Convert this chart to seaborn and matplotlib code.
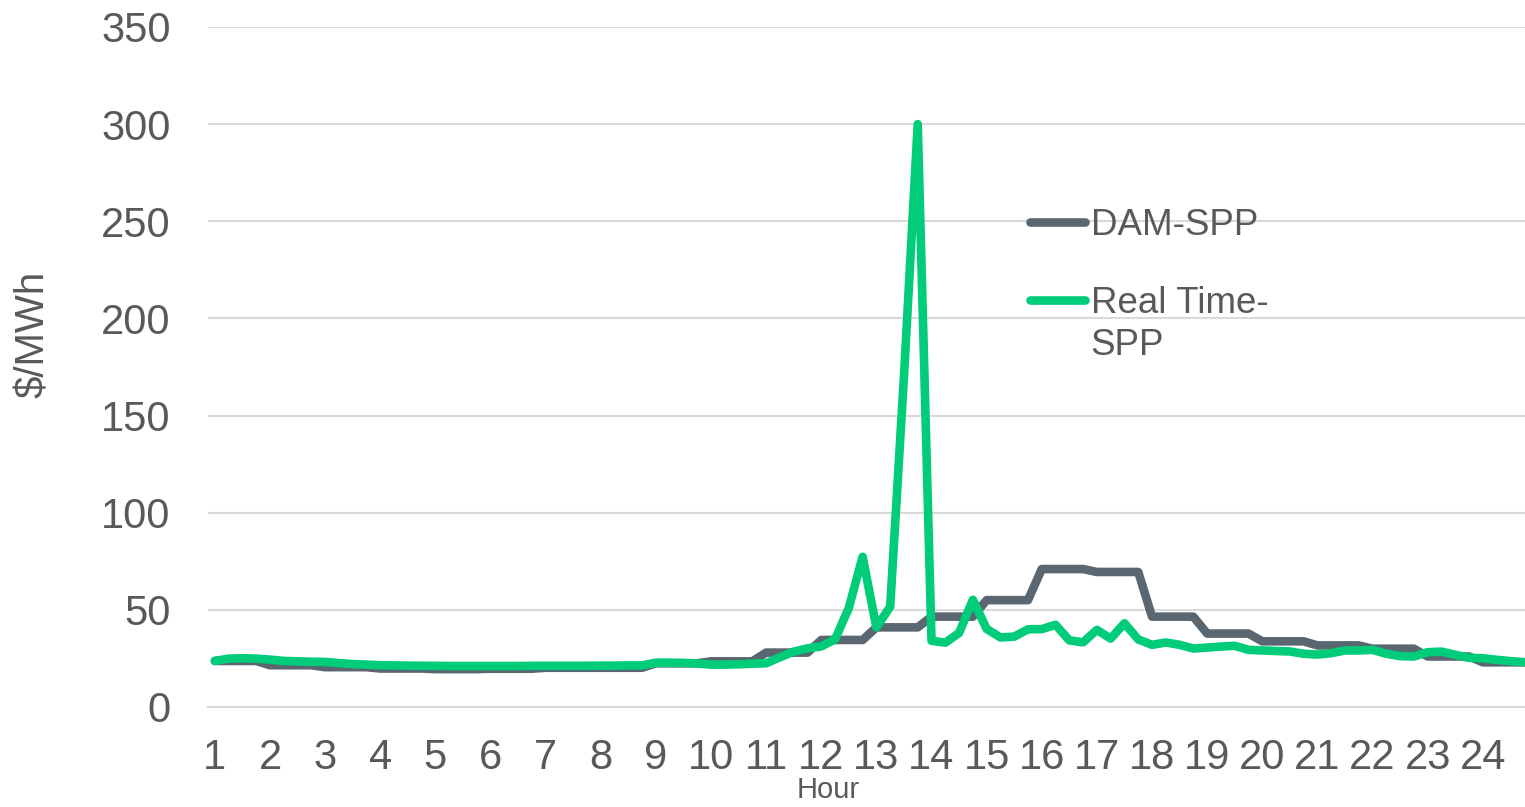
import numpy as np
import pandas as pd
import matplotlib
matplotlib.use("Agg")
import matplotlib.pyplot as plt
from matplotlib.lines import Line2D
import seaborn as sns

# hourly day-ahead price, applies to each 15-min interval of the hour
hours = list(range(1, 25))
dam_hourly = [23.7, 21.5, 20.5, 19.8, 19.5, 19.7, 20.2, 20.2, 22.5, 23.5, 28.0, 34.5,
              41.0, 46.5, 55.0, 71.0, 69.5, 46.5, 37.8, 33.8, 31.7, 30.0, 26.0, 23.0]

# real time price, 15-min intervals (96)
rt_values = [23.7, 24.9, 25.1, 24.9, 24.4, 23.7, 23.5, 23.3, 23.2, 22.6, 22.1, 21.8,
             21.5, 21.4, 21.3, 21.2, 21.2, 21.1, 21.1, 21.1, 21.1, 21.1, 21.1, 21.2,
             21.2, 21.2, 21.2, 21.2, 21.3, 21.3, 21.4, 21.4,
             22.8, 22.8, 22.7, 22.4,
             21.8, 21.8, 22.0, 22.3, 22.5,
             25.6, 28.5, 30.2, 31.2, 34.8, 51.0, 77.3, 41.0, 51.6,
             170.0, 300.0,
             34.1, 33.1, 38.1, 55.2, 40.2,
             35.8, 36.2, 40.0, 40.1, 42.3,
             34.3, 33.3, 39.7, 35.2, 43.1,
             34.8, 32.0, 33.2, 32.0, 30.1,
             30.6, 31.1, 31.5, 29.4, 29.1,
             28.8, 28.6, 27.4, 27.0, 27.7,
             29.1, 29.1, 29.4, 27.4, 26.2,
             26.0, 28.2, 28.5, 26.9, 25.3,
             25.1, 24.3, 23.6, 23.1]

series_names = ["DAM-SPP", "Real Time-SPP"]
dam_color = "#5A6771"
rt_color = "#00CC7A"
text_color = "#595959"
grid_color = "#D9D9D9"

dam_values = np.repeat(dam_hourly, 4)
n = len(rt_values)
df = pd.DataFrame({
    "interval": np.tile(np.arange(n), 2),
    "price": np.concatenate([dam_values, rt_values]),
    "series": [series_names[0]] * n + [series_names[1]] * n,
})

sns.set_theme(style="white")
plt.rcParams["font.family"] = ["Liberation Sans", "DejaVu Sans"]

W, H = 1525, 807
fig = plt.figure(figsize=(W / 100, H / 100), dpi=100)
ax = fig.add_axes([208 / W, 1 - 707 / H, (1531 - 208) / W, (707 - 27) / H])

lw = 6.2
sns.lineplot(data=df, x="interval", y="price", hue="series",
             palette=[dam_color, rt_color], linewidth=lw, ax=ax, legend=False)
for line in ax.lines:
    line.set_solid_capstyle("round")
    line.set_solid_joinstyle("round")

ax.set_xlim(-0.5, n - 0.5)
ax.set_ylim(0, 350)
ax.set_yticks(range(0, 351, 50))
ax.yaxis.grid(True, color=grid_color, linewidth=1.5)
ax.set_axisbelow(True)

ax.set_xticks(np.arange(0, n, 4))
ax.set_xticklabels([str(h) for h in hours])
ax.set_xticks(np.arange(-0.5, n, 4), minor=True)
ax.tick_params(axis="x", which="major", length=0, pad=22, labelsize=30, labelcolor=text_color)
ax.tick_params(axis="x", which="minor", length=8.5, width=1.2, color=grid_color, direction="out")
ax.tick_params(axis="y", length=0, pad=27, labelsize=30, labelcolor=text_color)

for side in ["top", "right", "left"]:
    ax.spines[side].set_visible(False)
ax.spines["bottom"].set_color(grid_color)
ax.spines["bottom"].set_linewidth(1.5)

ax.set_xlabel("")
ax.set_ylabel("")
fig.text(828 / W, 1 - 790 / H, "Hour", ha="center", va="center",
         fontsize=21, color=text_color)
fig.text(33 / W, 1 - 334 / H, "$/MWh", ha="center", va="center",
         rotation=90, fontsize=29, color=text_color)

# legend: Excel wraps the second label, so only the first line sits next to the swatch
handles = [Line2D([0], [0], color=c, lw=lw, solid_capstyle="round")
           for c in [dam_color, rt_color]]
leg = fig.legend(handles, ["DAM-SPP", "Real Time-"], loc="upper left",
                 bbox_to_anchor=(1030 / W, 1 - 208 / H), frameon=False,
                 fontsize=26.5, handlelength=1.5, handletextpad=0.15,
                 labelspacing=1.16, borderpad=0, borderaxespad=0,
                 labelcolor=text_color)
fig.canvas.draw()
bb = leg.get_texts()[1].get_window_extent()
fig.text(bb.x0 / W, (bb.y0 - 42) / H, "SPP", ha="left", va="bottom",
         fontsize=26.5, color=text_color)

fig.savefig("out.png", dpi=100)
